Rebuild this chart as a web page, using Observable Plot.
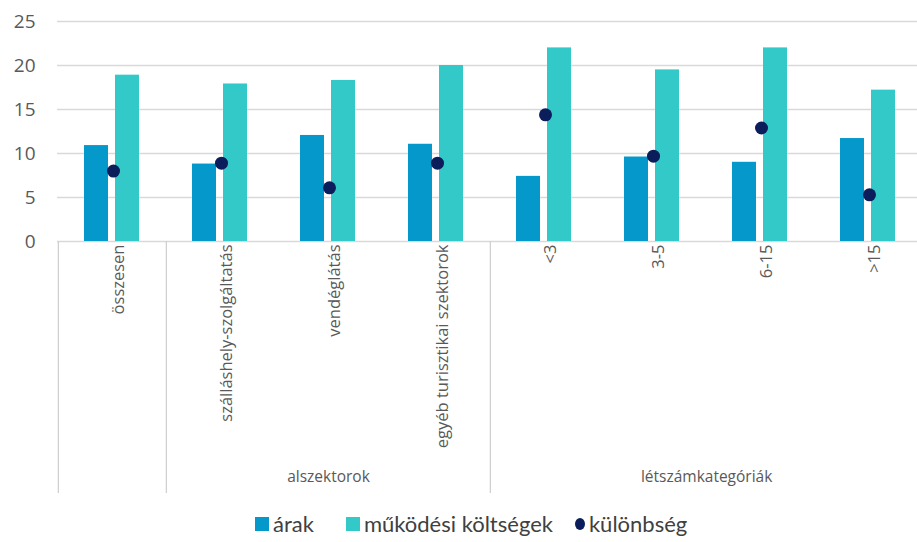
<!DOCTYPE html>
<html><head><meta charset="utf-8">
<script src="https://cdn.jsdelivr.net/npm/d3@7"></script>
<script src="https://cdn.jsdelivr.net/npm/@observablehq/plot@0.6"></script>
<style>
body{margin:0;background:#fff;}
#legend{display:flex;align-items:center;font-family:Lato,"Open Sans",sans-serif;font-size:22px;color:#404040;margin-top:10px;padding-left:255px;}
.it{display:flex;align-items:center;}
.sw{width:14px;height:14px;margin-right:4px;}
.dot{width:10px;height:12px;border-radius:50%;margin-right:4px;}
</style></head><body>
<div id="chart"></div>
<div id="legend"></div>
<script>
const categories = ["összesen","szálláshely-szolgáltatás","vendéglátás","egyéb turisztikai szektorok","<3","3-5","6-15",">15"];
const arak = [10.9, 8.8, 12.05, 11.05, 7.4, 9.6, 9.0, 11.7];
const mukodesi = [18.9, 17.9, 18.3, 20.0, 22.0, 19.5, 22.0, 17.2];
const kulonbseg = [8.0, 8.9, 6.1, 8.9, 14.4, 9.7, 12.9, 5.3];
const yTicks = [0,5,10,15,20,25];
const groupStarts = ["összesen","szálláshely-szolgáltatás","<3"];
const groupA = [{cat:"vendéglátás", label:"alszektorok"}];
const groupB = [{cat:"3-5", label:"létszámkategóriák"}];
const seriesNames = ["árak","működési költségek","különbség"];
const colors = ["#0599CB","#33C9C9","#0B1E5B"];

const rows = categories.map((c,i)=>({cat:c, arak:arak[i], muk:mukodesi[i], kul:kulonbseg[i]}));
const band = (923-57)/categories.length;
const groupStyle = {x:"cat", text:"label", frameAnchor:"bottom", dy:-12, fontSize:15.5, fontFamily:"Open Sans", fill:"#595959"};

const plot = Plot.plot({
  width: 917, height: 500,
  marginLeft: 57, marginRight: 0, marginTop: 21, marginBottom: 7,
  x: {domain: categories, range:[57,923], padding:0, axis:null},
  y: {domain:[0,25], range:[241,21], axis:null},
  style:{overflow:"visible"},
  marks: [
    Plot.ruleY(yTicks, {y:d=>d, stroke:"#d9d9d9", strokeWidth:1.3}),
    Plot.axisY(yTicks, {tickSize:0, tickPadding:22, fontSize:19, fontFamily:"Open Sans", fill:"#595959"}),
    Plot.ruleX(groupStarts, {x:d=>d, dx:-band/2, insetTop:220, stroke:"#d0d0d0", strokeWidth:1.3}),
    Plot.barY(rows, {x:"cat", y:"arak", fill:colors[0], insetLeft:26, insetRight:58}),
    Plot.barY(rows, {x:"cat", y:"muk", fill:colors[1], insetLeft:57, insetRight:27}),
    Plot.dot(rows, {x:"cat", y:"kul", r:6.5, fill:colors[2], dx:1}),
    Plot.text(categories, {x:d=>d, text:d=>d, frameAnchor:"top", dy:223, rotate:-90, textAnchor:"end", fontSize:16.5, fontFamily:"Open Sans", fill:"#595959", ariaLabel:"catlabels"}),
    Plot.text(groupA, groupStyle),
    Plot.text(groupB, {...groupStyle, dx: band/2})
  ]
});
const cl = plot.querySelector('g[aria-label="catlabels"]');
if (cl) cl.style.letterSpacing = "0.3px";
document.getElementById("chart").appendChild(plot);

const lg = document.getElementById("legend");
const gaps = [32, 22, 0];
seriesNames.forEach((n,i)=>{
  const it = document.createElement("div"); it.className="it"; it.style.marginRight = gaps[i]+"px";
  const sw = document.createElement("span"); sw.className = i===2?"dot":"sw"; sw.style.background=colors[i];
  const t = document.createElement("span"); t.textContent=n;
  it.appendChild(sw); it.appendChild(t); lg.appendChild(it);
});
</script></body></html>
